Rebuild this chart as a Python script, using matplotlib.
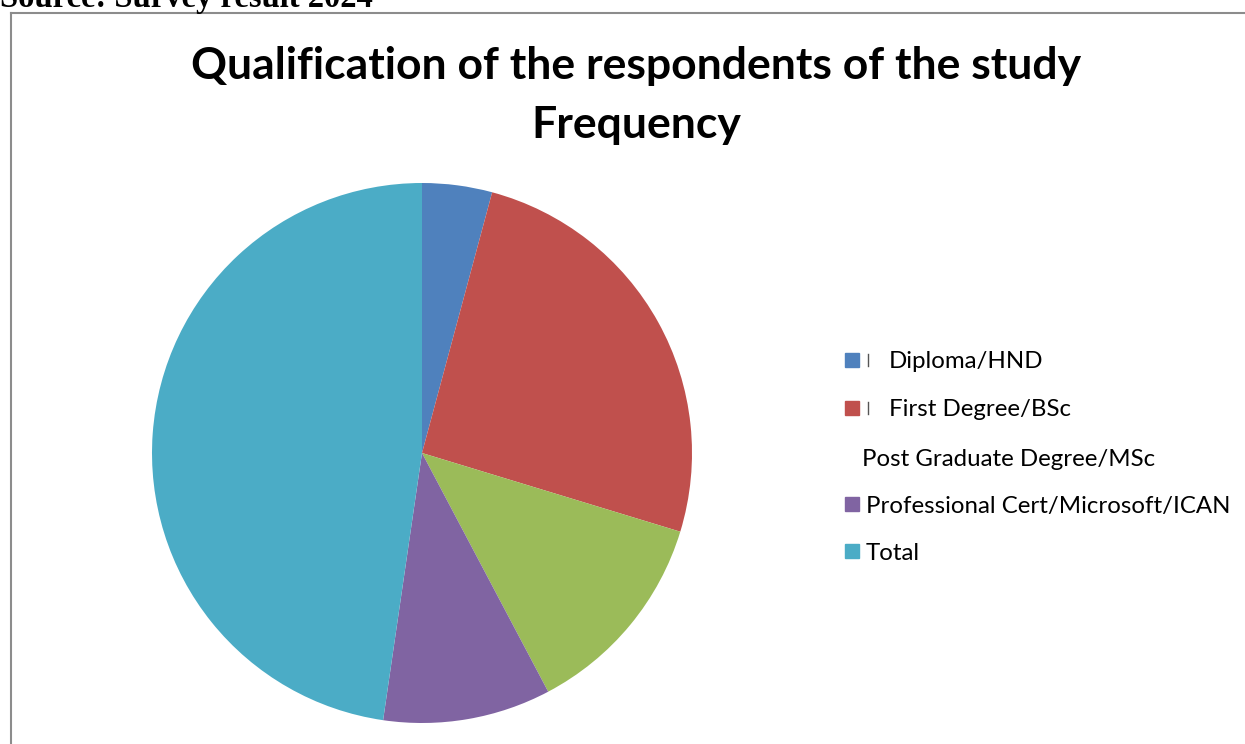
import matplotlib.pyplot as plt
from matplotlib.patches import Rectangle
from matplotlib.lines import Line2D

# data
categories = ["Diploma/HND", "First Degree/BSc", "Post Graduate Degree/MSc",
              "Professional Cert/Microsoft/ICAN", "Total"]
frequency = [10, 61, 30, 24, 114]
colors = ["#4F81BD", "#C0504D", "#9BBB59", "#8064A2", "#4BACC6"]
show_marker = [True, True, False, True, True]

W, H = 1245, 744
fig = plt.figure(figsize=(W / 100, H / 100), dpi=100)


def fx(px):
    return px / W


def fy(py):
    return 1 - py / H


# chart frame (only top and left edges visible)
fig.add_artist(Line2D([fx(11), 1], [fy(13), fy(13)], color="#8c8c8c", lw=1.5))
fig.add_artist(Line2D([fx(11), fx(11)], [fy(13), 0], color="#8c8c8c", lw=1.5))

fig.text(fx(0), fy(7), "Source: Survey result 2024", family="Liberation Serif",
         weight="bold", fontsize=23.5, va="baseline", ha="left")

fig.text(fx(636), fy(66), "Qualification of the respondents of the study",
         family="Lato", weight="bold", fontsize=32, ha="center", va="center")
fig.text(fx(636), fy(125), "Frequency", family="Lato", weight="bold",
         fontsize=32, ha="center", va="center")

# pie
ax = fig.add_axes([fx(152), fy(723), fx(540), 540 / H])
ax.pie(frequency, colors=colors, startangle=90, counterclock=False,
       radius=1, wedgeprops=dict(linewidth=0))
ax.set_xlim(-1, 1)
ax.set_ylim(-1, 1)
ax.set_aspect("equal")
ax.axis("off")

# legend drawn by hand to keep the odd spacing of the original
rows_y = [360, 408, 458, 504, 551]
text_x = [889, 889, 862, 866, 866]
for i, name in enumerate(categories):
    y = rows_y[i]
    if show_marker[i]:
        fig.add_artist(Rectangle((fx(845), fy(y + 7)), fx(14), 14 / H,
                                 color=colors[i], transform=fig.transFigure))
    if i < 2:
        fig.add_artist(Line2D([fx(868), fx(868)], [fy(y + 6), fy(y - 6)],
                              color="#555555", lw=1))
    fig.text(fx(text_x[i]), fy(y + 2), name, family="Lato", fontsize=17.3,
             ha="left", va="center")

fig.savefig("out.png", dpi=100)
